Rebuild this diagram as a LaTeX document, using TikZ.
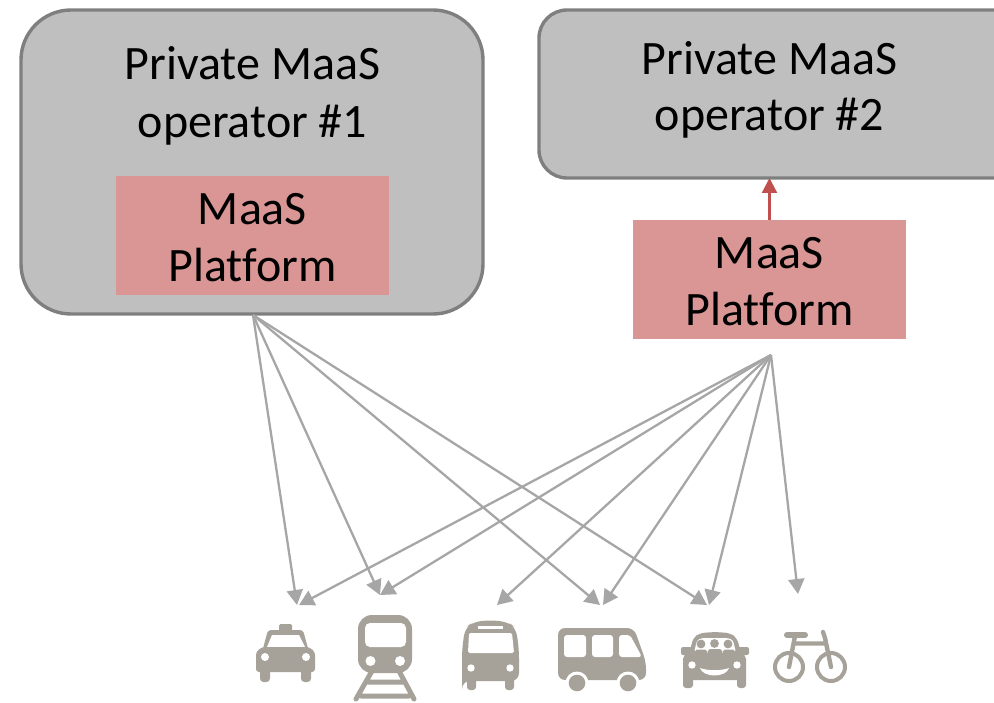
\documentclass[tikz,border=0pt]{standalone}
\usepackage{fontspec}
\setmainfont[RawFeature={-liga}]{Carlito}
\usetikzlibrary{arrows.meta}
\definecolor{boxgrey}{HTML}{BFBFBF}
\definecolor{boxedge}{HTML}{7F7F7F}
\definecolor{pinkbox}{HTML}{D99694}
\definecolor{linkgrey}{HTML}{A6A6A6}
\definecolor{iconcol}{HTML}{A6A299}
\definecolor{redlink}{HTML}{C0504D}
\tikzset{
  opbox/.style={draw=boxedge,line width=3.4pt,fill=boxgrey},
  platbox/.style={fill=pinkbox,minimum width=273pt,minimum height=119pt,inner sep=0pt},
  plattext/.style={align=center,font=\fontsize{48}{56.5}\selectfont,inner sep=0pt},
  optext/.style={align=center,font=\fontsize{48}{58}\selectfont,inner sep=0pt},
  optextb/.style={align=center,font=\fontsize{48}{56.5}\selectfont,inner sep=0pt},
  link/.style={draw=linkgrey,line width=2.3pt,-{Triangle[length=15pt,width=16pt]}},
  redarrow/.style={draw=redlink,line width=2.3pt,-{Triangle[length=15pt,width=15pt]}},
  ic/.style={fill=iconcol,draw=none},
  hole/.style={fill=white,draw=none},
  icl/.style={draw=iconcol,line cap=round,line join=round},
}
\begin{document}
\begin{tikzpicture}[x=1pt,y=-1pt]
\useasboundingbox (0,0) rectangle (994,703);
\begin{scope}
\clip (0,0) rectangle (994,703);
\draw[opbox,rounded corners=50pt] (21,10) rectangle (483,314);
\draw[opbox,rounded corners=28pt] (539,10) rectangle (1030,178);
\end{scope}
\coordinate (src1) at (253,315);
\coordinate (src2) at (771,355);
\node[optext] (op1) at (252.5,96) {Private MaaS\\operator \#1};
\node[optextb] (op2) at (769.5,90) {Private MaaS\\operator \#2};
\node[platbox] (pl1) at (252.5,235.5) {};
\node[platbox] (pl2) at (769.5,279.5) {};
\node[plattext] (pl1t) at (252.5,237.5) {MaaS\\Platform};
\node[plattext] (pl2t) at (769.5,281.5) {MaaS\\Platform};
\coordinate (op2b) at (769.5,178);
\draw[redarrow] (pl2.north) -- (op2b);
\coordinate (taxi1) at (297,605);
\coordinate (taxi2) at (299,605);
\coordinate (train) at (380,595);
\coordinate (bus) at (497,605);
\coordinate (van1) at (600,605);
\coordinate (van2) at (603,605);
\coordinate (car1) at (707,605);
\coordinate (car2) at (709,605);
\coordinate (bike) at (798,594);
\foreach \t in {taxi1,train,van1,car1} \draw[link] (src1) -- (\t);
\foreach \t in {taxi2,train,bus,van2,car2,bike} \draw[link] (src2) -- (\t);
% taxi
\fill[ic,rounded corners=1.5pt] (279,624) rectangle (292,632);
\fill[ic,rounded corners=3pt] (262,652) -- (268,630) -- (303,630) -- (309,652) -- cycle;
\fill[hole] (267,647) -- (272,635) -- (299,635) -- (305,647) -- cycle;
\fill[ic,rounded corners=3pt] (256,672) -- (256,652) -- (262,647) -- (309,647) -- (315,652) -- (315,672) -- cycle;
\fill[ic,rounded corners=3.5pt] (260,668) rectangle (270,682);
\fill[ic,rounded corners=3.5pt] (301,668) rectangle (311,682);
\fill[hole] (265,657) circle (4pt) (306,657) circle (4pt);
% train
\fill[ic,rounded corners=14pt] (358,615) rectangle (412,673);
\fill[hole,rounded corners=5pt] (365,623) rectangle (406,647);
\fill[hole] (370.5,661) circle (5pt) (400,661) circle (5pt);
\draw[icl,line width=5pt] (372,671) -- (356,699) (399,671) -- (414,699) (361,696) -- (409,696) (368,682) -- (403,682);
% bus
\fill[ic,rounded corners=8pt] (462,690) -- (462,682) -- (462,650) -- (465,628) -- (473,622) -- (490,620) -- (508,622) -- (516,628) -- (519,650) -- (519,681) -- (462,681) -- cycle;
\fill[ic,rounded corners=3pt] (467,675) rectangle (476,690);
\fill[ic,rounded corners=3pt] (505,675) rectangle (514,690);
\fill[hole,rounded corners=1.5pt] (469,633) -- (512,633) -- (514,653) -- (468,653) -- cycle;
\fill[hole] (478,626) rectangle (503,629);
\fill[hole] (471,668) circle (3.7pt) (510,668) circle (3.7pt);
% van
\fill[ic,rounded corners=7pt] (558,680) -- (558,628) -- (634,628) -- (646,662) -- (646,680) -- cycle;
\fill[hole] (577,683) circle (11.5pt) (628,683) circle (11.5pt);
\fill[hole] (566,690) rectangle (590,695) (617,690) rectangle (640,695);
\fill[ic] (577,683) circle (8.3pt) (628,683) circle (8.3pt);
\fill[hole,rounded corners=3pt] (564,635) rectangle (586,657);
\fill[hole,rounded corners=3pt] (592,635) rectangle (613,657);
\fill[hole,rounded corners=3pt] (619,635) -- (630,635) -- (642,657) -- (619,657) -- cycle;
% shared car
\fill[ic,rounded corners=5pt] (688,660) -- (693,638) -- (700,633) -- (715,632) -- (730,633) -- (737,638) -- (743,660) -- cycle;
\fill[ic,rounded corners=2pt] (681,647) rectangle (692,655);
\fill[ic,rounded corners=2pt] (738,647) rectangle (749,655);
\fill[ic,rounded corners=5pt] (683,680) -- (683,654) -- (746,654) -- (746,680) -- cycle;
\fill[ic,rounded corners=3pt] (683,672) rectangle (693,688);
\fill[ic,rounded corners=3pt] (737,672) rectangle (746,688);
\fill[hole,rounded corners=3pt] (694,653) -- (697,640) -- (702,638) -- (728,638) -- (733,640) -- (736,653) -- cycle;
\fill[ic] (701,644) circle (4.4pt) (714.5,643.5) circle (4.4pt) (728,644) circle (4.4pt);
\fill[ic,rounded corners=2pt] (694,657) -- (695,649.5) -- (707,649.5) -- (708,657) -- cycle;
\fill[ic,rounded corners=2pt] (707.5,657) -- (708,649) -- (722,649) -- (722.5,657) -- cycle;
\fill[ic,rounded corners=2pt] (722,657) -- (723,649.5) -- (735,649.5) -- (736,657) -- cycle;
\fill[hole] (692,665) circle (3.7pt) (737,665) circle (3.7pt);
\fill[hole] (700,668) .. controls (708,671) and (721,671) .. (729,668) .. controls (726,678) and (703,678) .. (700,668) -- cycle;
% bicycle
\draw[icl,line width=4pt] (789,667) circle (14pt) (831,667) circle (14pt);
\draw[icl,line width=4.4pt] (789,667) -- (795,636) (795,643.5) -- (825,643.5) (831,667) -- (825,638) -- (823,632);
\draw[icl,line width=6pt] (787,635) -- (805,635);
\end{tikzpicture}
\end{document}
